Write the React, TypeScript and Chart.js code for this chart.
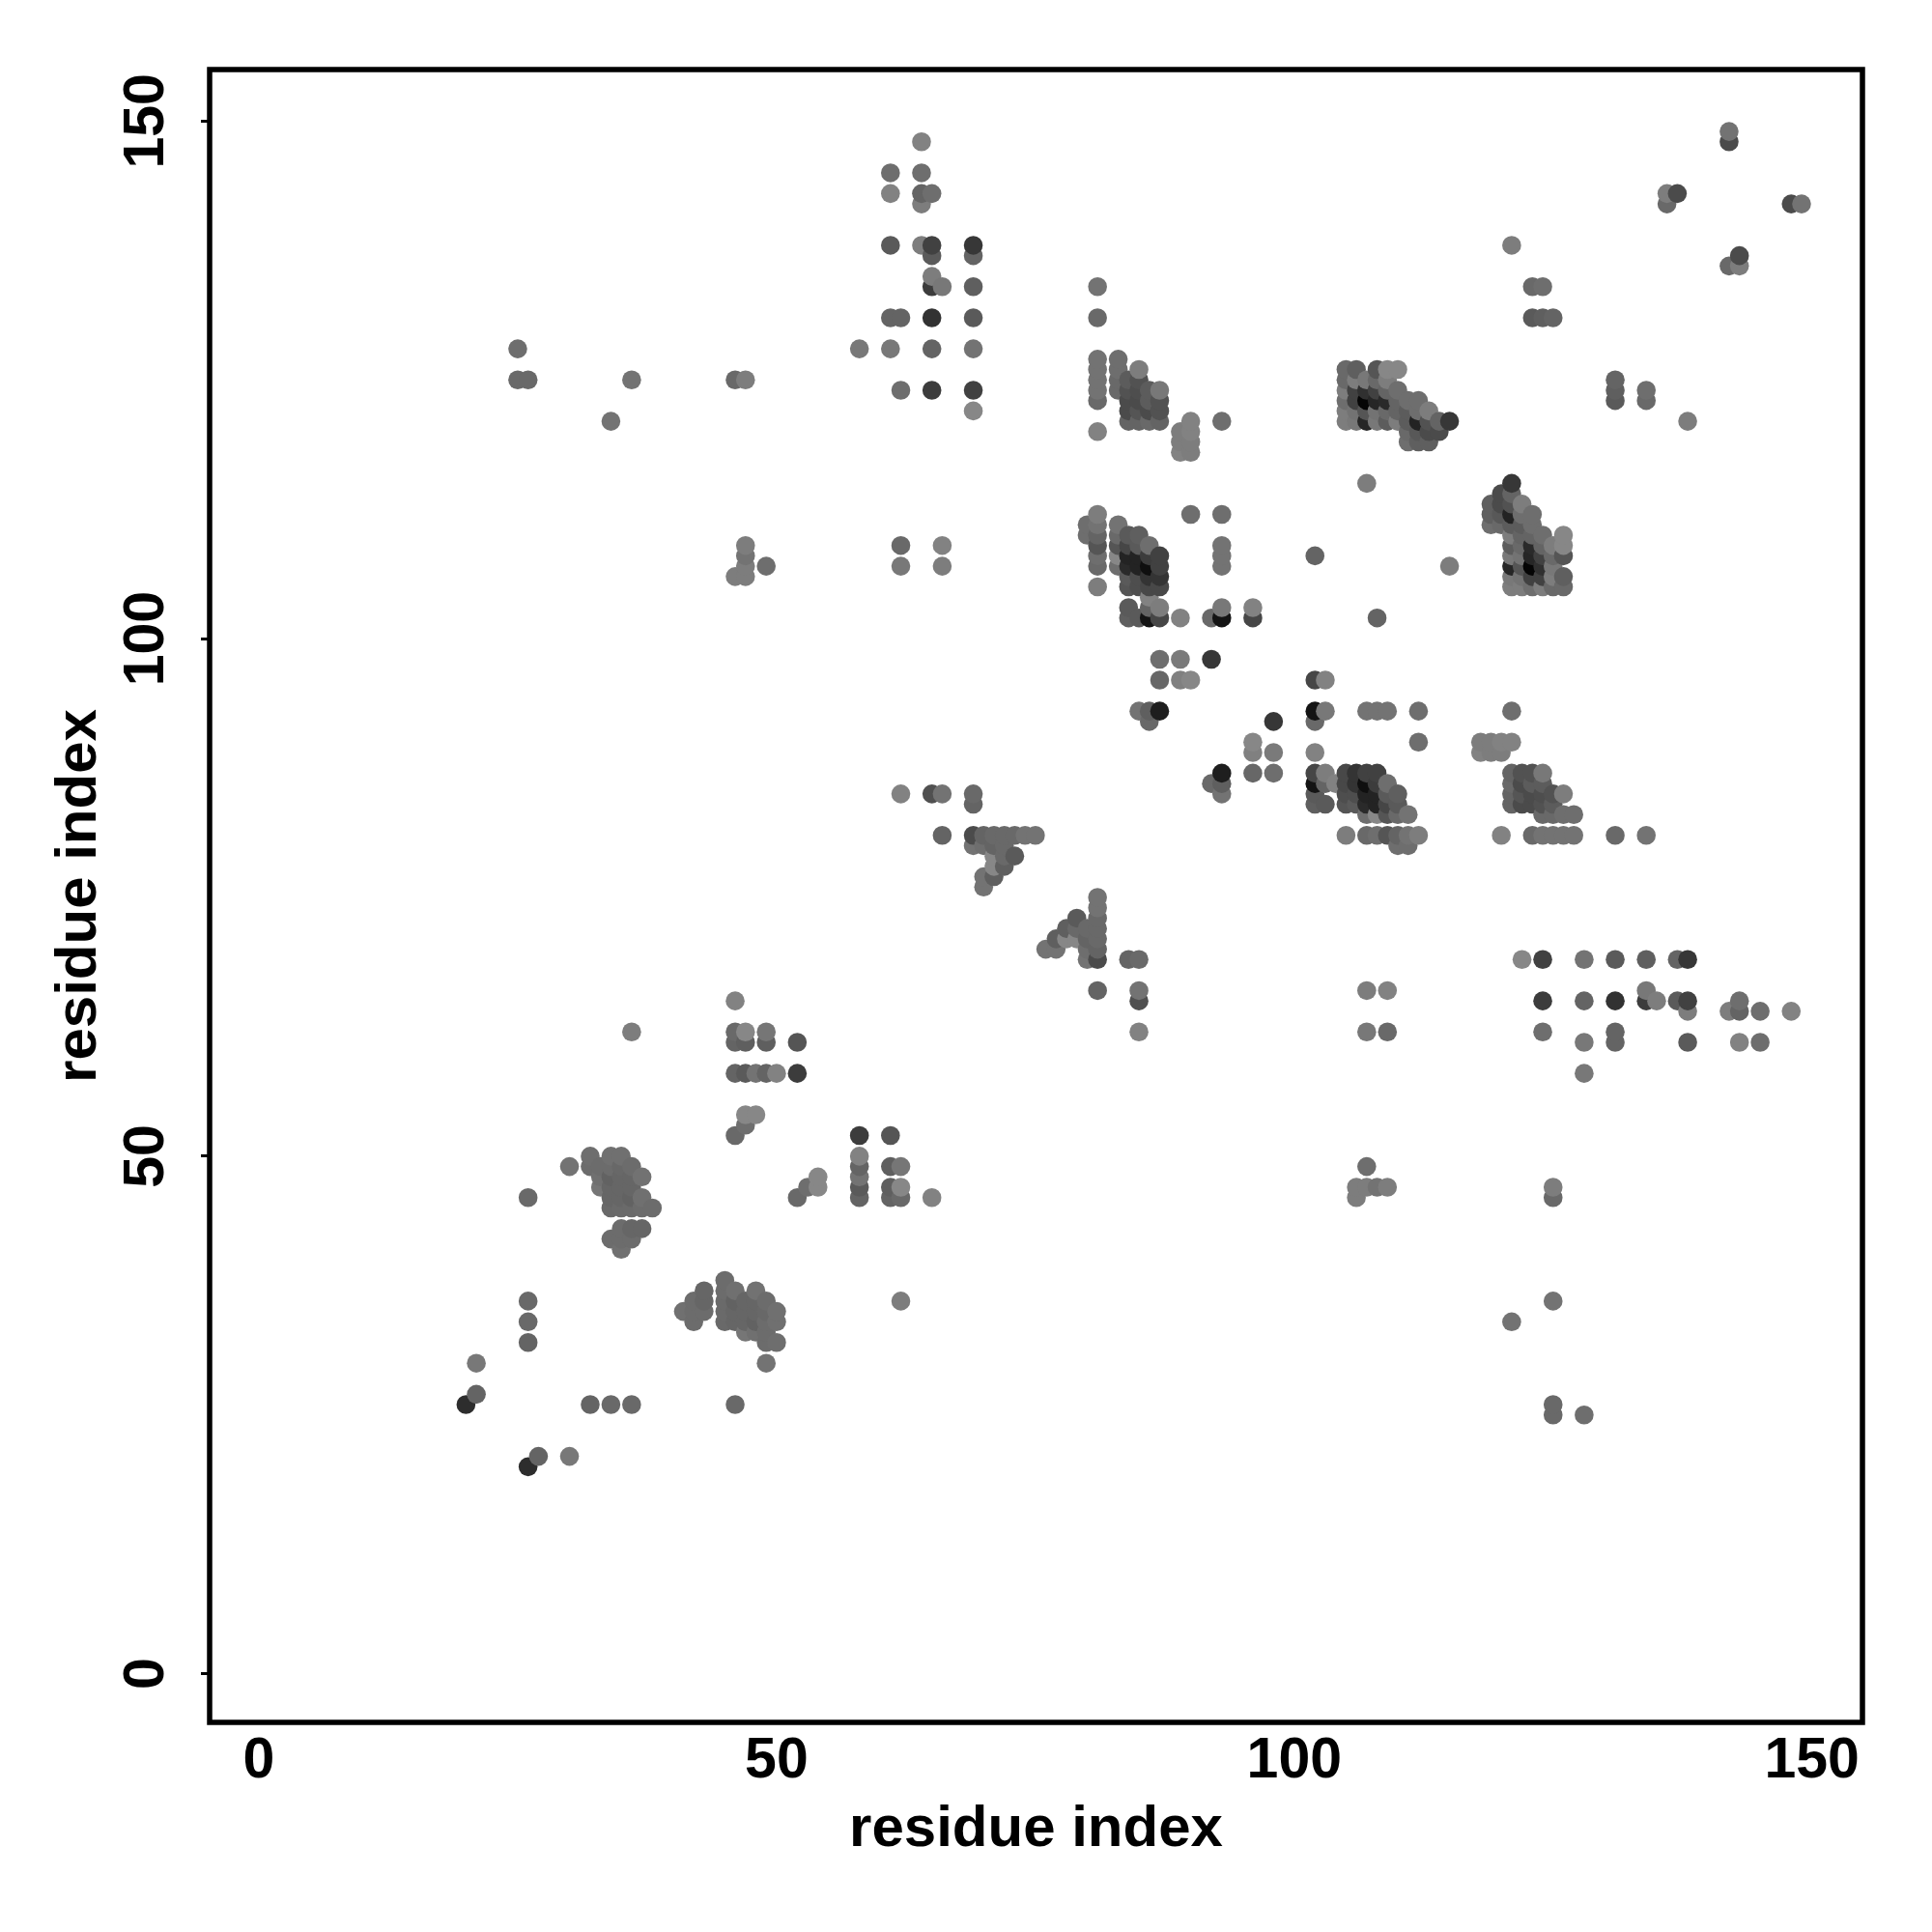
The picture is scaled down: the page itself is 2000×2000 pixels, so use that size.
import React, { useEffect, useRef } from "react";
import { Chart, registerables } from "chart.js";

Chart.register(...registerables);

type Contact = [number, number, number];

const tickValues = [0, 50, 100, 150];
const axisTitle = "residue index";

// Each contact: [residue i, residue j, grey level]; the map is symmetric.
const farContacts: Contact[] = [
  [20, 26, 45], [21, 27, 100], [21, 30, 120], [26, 32, 100], [26, 34, 105], [26, 36, 105], [26, 46, 105],
  [25, 125, 105], [26, 125, 105], [25, 128, 110], [34, 121, 115], [36, 125, 115], [36, 62, 125],
];
const clusterA: Contact[] = [
  [30, 49, 115], [32, 49, 108], [32, 50, 110], [33, 47, 118], [33, 48, 112], [33, 49, 108],
  [34, 45, 105], [34, 46, 102], [34, 47, 102], [34, 48, 98], [34, 49, 108], [34, 50, 112],
  [35, 45, 106], [35, 46, 102], [35, 47, 102], [35, 48, 102], [35, 49, 104], [35, 50, 112],
  [36, 45, 106], [36, 46, 98], [36, 47, 102], [36, 48, 102], [36, 49, 108],
  [37, 45, 108], [37, 46, 112], [37, 48, 114], [38, 45, 108],
  [34, 42, 108], [35, 41, 112], [35, 42, 108], [35, 43, 108], [36, 42, 108], [36, 43, 102], [37, 43, 102],
];
const clusterB: Contact[] = [
  [46, 65, 130], [46, 62, 105], [47, 62, 135], [49, 62, 118], [46, 61, 100], [47, 61, 95], [49, 61, 95], [52, 61, 85],
  [46, 58, 100], [47, 58, 90], [48, 58, 115], [49, 58, 100], [50, 58, 130], [52, 58, 60],
  [46, 52, 105], [47, 53, 110], [47, 54, 135], [48, 54, 135],
  [46, 106, 125], [47, 106, 125], [47, 107, 125], [47, 108, 115], [47, 109, 125], [49, 107, 110],
  [46, 125, 105], [47, 125, 125],
];
const clusterC: Contact[] = [
  [64, 148, 130], [61, 145, 110], [64, 145, 110], [61, 143, 130], [64, 143, 100], [65, 143, 110], [64, 142, 125],
  [61, 138, 90], [64, 138, 125], [65, 138, 65], [69, 138, 55], [65, 137, 90], [69, 137, 100],
  [65, 135, 125], [65, 134, 60], [66, 134, 120], [69, 134, 95],
  [61, 131, 100], [62, 131, 100], [65, 131, 50], [69, 131, 90],
  [58, 128, 120], [61, 128, 120], [65, 128, 100], [69, 128, 115],
  [62, 124, 110], [65, 124, 60], [69, 124, 65], [69, 122, 135],
  [62, 109, 105], [62, 107, 120], [66, 109, 130], [66, 107, 125],
  [62, 85, 130], [65, 85, 80], [66, 85, 115], [69, 85, 105], [69, 84, 100], [66, 81, 100],
];
const clusterD: Contact[] = [
  [69, 81, 75], [70, 81, 100], [71, 81, 105], [72, 81, 105], [73, 81, 105], [74, 81, 115], [75, 81, 115],
  [69, 80, 115], [70, 80, 110], [71, 80, 100], [72, 80, 105],
  [71, 79, 135], [72, 79, 105], [73, 79, 90], [71, 78, 135], [72, 78, 95],
  [70, 77, 115], [71, 77, 95], [70, 76, 115],
];
const clusterE: Contact[] = [
  [85, 93, 115], [86, 93, 95], [87, 93, 30], [86, 92, 105],
  [87, 98, 110], [89, 98, 122], [87, 96, 103], [89, 96, 128], [90, 96, 135], [92, 98, 55],
  [84, 102, 95], [84, 103, 90], [85, 102, 90], [86, 102, 20], [87, 102, 70], [86, 103, 100], [87, 103, 125], [86, 104, 130],
  [89, 102, 130], [92, 102, 105], [93, 102, 20], [93, 103, 120], [96, 102, 70], [96, 103, 130], [102, 108, 100],
  [90, 112, 110], [93, 112, 110], [93, 109, 115], [93, 108, 115], [93, 107, 115],
  [107, 115, 125], [93, 121, 110],
];
const clusterF: Contact[] = [
  [80, 111, 110], [80, 110, 110],
  [81, 112, 125], [81, 111, 115], [81, 110, 100], [81, 109, 85], [81, 108, 110], [81, 107, 105], [81, 105, 125],
  [83, 111, 115], [83, 110, 105], [83, 109, 85], [83, 108, 135], [83, 107, 110],
  [84, 110, 90], [84, 109, 70], [84, 108, 35], [84, 107, 42], [84, 106, 90], [84, 105, 85],
  [85, 110, 95], [85, 109, 90], [85, 108, 35], [85, 107, 35], [85, 106, 78], [85, 105, 78],
  [86, 109, 110], [86, 108, 60], [86, 107, 15], [86, 106, 52], [86, 105, 72],
  [87, 108, 65], [87, 107, 65], [87, 106, 52], [87, 105, 72],
];
const clusterG: Contact[] = [
  [81, 127, 115], [81, 126, 115], [81, 125, 115], [81, 124, 115], [81, 123, 105], [81, 120, 130],
  [83, 127, 110], [83, 126, 110], [83, 125, 105], [83, 124, 105],
  [84, 125, 92], [84, 124, 82], [84, 123, 75], [84, 122, 75], [84, 121, 100],
  [85, 126, 125], [85, 125, 82], [85, 124, 78], [85, 123, 75], [85, 122, 85], [85, 121, 100],
  [86, 124, 92], [86, 123, 92], [86, 122, 75], [86, 121, 105],
  [87, 124, 120], [87, 123, 82], [87, 122, 82], [87, 121, 100],
  [89, 120, 125], [89, 119, 125], [89, 118, 130], [90, 121, 130], [90, 120, 130], [90, 119, 125], [90, 118, 125],
  [81, 134, 115], [81, 131, 105],
];
const clusterH: Contact[] = [
  [105, 126, 105], [106, 126, 95], [108, 126, 85], [109, 126, 135], [110, 126, 135],
  [105, 125, 105], [106, 125, 125], [107, 125, 120], [108, 125, 105], [109, 125, 125],
  [105, 124, 125], [106, 124, 65], [107, 124, 48], [108, 124, 65], [109, 124, 100], [110, 124, 110],
  [105, 123, 110], [106, 123, 65], [107, 123, 5], [108, 123, 38], [109, 123, 42], [110, 123, 100], [111, 123, 110], [112, 123, 110],
  [105, 122, 125], [106, 122, 115], [107, 122, 85], [108, 122, 115], [109, 122, 105], [110, 122, 100], [111, 122, 92], [112, 122, 110], [113, 122, 125],
  [105, 121, 125], [106, 121, 120], [107, 121, 38], [108, 121, 120], [109, 121, 92], [110, 121, 125], [111, 121, 92], [112, 121, 35], [113, 121, 82], [114, 121, 100], [115, 121, 55],
  [111, 120, 105], [112, 120, 88], [113, 120, 75], [114, 120, 75],
  [111, 119, 110], [112, 119, 95], [113, 119, 95],
  [121, 138, 125], [123, 134, 105], [124, 134, 110], [123, 131, 90], [124, 131, 95], [125, 131, 100],
];
const clusterI: Contact[] = [
  [136, 143, 125], [136, 142, 105], [137, 143, 75], [142, 149, 115], [142, 148, 75],
];

const contacts: Contact[] = [
  ...farContacts, ...clusterA, ...clusterB, ...clusterC, ...clusterD,
  ...clusterE, ...clusterF, ...clusterG, ...clusterH, ...clusterI,
];

const family = "'Liberation Sans', Arial, sans-serif";
const tickFont = { family, size: 59, weight: "bold" as const };
const titleFont = { family, size: 60, weight: "bold" as const };

const framePlugin = {
  id: "frame",
  afterDatasetsDraw(chart: Chart) {
    const { ctx, chartArea: a } = chart;
    ctx.save();
    ctx.strokeStyle = "#000";
    ctx.lineWidth = 5.5;
    ctx.strokeRect(a.left, a.top, a.right - a.left, a.bottom - a.top);
    ctx.restore();
  },
};

export default function App() {
  const ref = useRef<HTMLCanvasElement | null>(null);
  useEffect(() => {
    const seen = new Map<string, { x: number; y: number; g: number }>();
    for (const [i, j, g] of contacts) {
      seen.set(`${i},${j}`, { x: i, y: j, g });
      seen.set(`${j},${i}`, { x: j, y: i, g });
    }
    const points = [...seen.values()].sort((a, b) => a.x - b.x || a.y - b.y);
    const chart = new Chart(ref.current!, {
      type: "scatter",
      data: {
        datasets: [
          {
            data: points.map((p) => ({ x: p.x, y: p.y })),
            pointRadius: 9.8,
            pointBorderWidth: 0,
            pointBackgroundColor: points.map((p) => `rgb(${p.g},${p.g},${p.g})`),
          },
        ],
      },
      options: {
        animation: false,
        responsive: false,
        events: [],
        layout: { padding: { top: 72, right: 72, left: 0, bottom: 0 } },
        plugins: { legend: { display: false }, tooltip: { enabled: false } },
        scales: {
          x: {
            type: "linear",
            min: -4.76,
            max: 154.88,
            afterBuildTicks: (s: any) => { s.ticks = tickValues.map((value) => ({ value })); },
            afterFit: (s: any) => { s.height = 217; },
            grid: { drawOnChartArea: false, drawTicks: false },
            border: { display: false },
            ticks: { color: "#000", font: tickFont, padding: 5, maxRotation: 0, minRotation: 0 },
            title: { display: true, text: axisTitle, color: "#000", font: titleFont, padding: 70 },
          },
          y: {
            type: "linear",
            min: -4.7,
            max: 154.98,
            afterBuildTicks: (s: any) => { s.ticks = tickValues.map((value) => ({ value })); },
            afterFit: (s: any) => { s.width = 217; },
            grid: { drawOnChartArea: false, drawTicks: true, tickLength: 9, tickWidth: 3, tickColor: "#000" },
            border: { display: false },
            ticks: { color: "#000", font: tickFont, padding: 6, minRotation: 90, maxRotation: 90, crossAlign: "center" },
            title: { display: true, text: axisTitle, color: "#000", font: titleFont, padding: 46 },
          },
        },
      },
      plugins: [framePlugin],
    } as any);
    return () => chart.destroy();
  }, []);
  return (
    <div style={{ position: "absolute", left: 0, top: 0, width: 2000, height: 2000, background: "#fff" }}>
      <canvas ref={ref} width={2000} height={2000} style={{ display: "block" }} />
    </div>
  );
}
